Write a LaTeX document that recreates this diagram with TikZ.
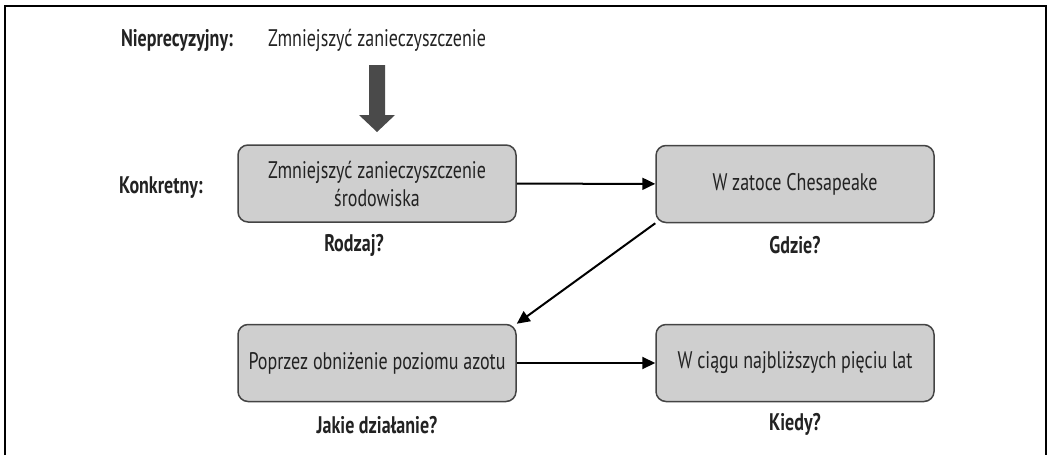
\documentclass[tikz,border=0pt]{standalone}
\usepackage{fontspec}
\setmainfont{PT Sans}[FakeStretch=0.75]
\usetikzlibrary{arrows.meta}
\definecolor{boxgrey}{HTML}{CFCFCF}
\definecolor{edgegrey}{HTML}{444444}
\definecolor{bigarrow}{HTML}{4A4A4A}
\definecolor{ink}{HTML}{222222}
\tikzset{stage/.style = {draw=edgegrey, line width=0.75pt, fill=boxgrey, rounded corners=5pt,
                         minimum width=139pt, minimum height=38.5pt, align=center,
                         text=ink, font=\fontsize{12}{14}\selectfont}}
\tikzset{question/.style = {text=ink, font=\fontsize{12}{14}\selectfont\bfseries}}
\tikzset{arrow/.style = {line width=1pt,-{Triangle[length=6.5pt,width=6pt]}}}

\begin{document}
\begin{tikzpicture}[x=0.5pt,y=-0.5pt]
\useasboundingbox (0,0) rectangle (1047,455);
\draw[line width=1pt] (5,455) -- (5,6) -- (1046,6) -- (1046,455);

\node[question] (nie) at (177,40) {Nieprecyzyjny:};
\node[text=ink, font=\fontsize{12}{14}\selectfont] (goal) at (377,40) {Zmniejszyć zanieczyszczenie};
\node[question] (konk) at (161,188) {Konkretny:};

\fill[bigarrow] (369,65) -- (385,65) -- (385,115) -- (395,115) -- (377,132)
                -- (359,115) -- (369,115) -- cycle;

\node[stage] (kind) at (377,183.5) {Zmniejszyć zanieczyszczenie\\środowiska};
\node[stage] (where) at (795,184) {W zatoce Chesapeake};
\node[stage] (how) at (377,363) {Poprzez obniżenie poziomu azotu};
\node[stage] (when) at (795,363) {W ciągu najbliższych pięciu lat};

\node[question] (q1) at (354,245) {Rodzaj?};
\node[question] (q2) at (795,245) {Gdzie?};
\node[question] (q3) at (377,425) {Jakie działanie?};
\node[question] (q4) at (795,424) {Kiedy?};

\draw[arrow] (kind) -- (where);
\draw[arrow] (where.south west) -- (how.north east);
\draw[arrow] (how) -- (when);

\end{tikzpicture}
\end{document}
